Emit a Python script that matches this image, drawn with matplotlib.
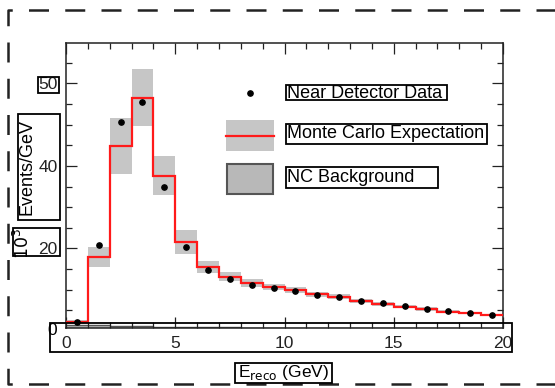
import numpy as np
import matplotlib.pyplot as plt
from matplotlib.patches import Rectangle
from matplotlib.lines import Line2D
from matplotlib.ticker import MultipleLocator

plt.rcParams['font.family'] = ['Liberation Sans', 'DejaVu Sans']

# binned energy spectrum, 1 GeV bins from 0 to 20 GeV (values x10^3 events/GeV)
bin_edges = np.arange(0, 21, 1)
data_vals = [2.2, 20.8, 50.7, 55.5, 34.9, 20.4, 14.8, 12.6, 11.2, 10.4,
             9.7, 8.7, 8.2, 7.3, 6.8, 6.1, 5.4, 4.8, 4.3, 3.9]
mc_vals = [2.1, 17.9, 44.8, 56.5, 37.6, 21.6, 15.5, 13.1, 11.6, 10.6,
           9.9, 8.9, 8.3, 7.3, 6.5, 5.9, 5.3, 4.7, 4.3, 3.9]
mc_err = [0.5, 2.5, 6.7, 6.9, 4.7, 2.9, 1.5, 1.1, 0.9, 0.8,
          0.7, 0.6, 0.6, 0.5, 0.5, 0.4, 0.4, 0.4, 0.3, 0.3]
nc_vals = [1.5, 1.5, 1.2, 1.1, 1.0, 1.0, 0.9, 0.9, 0.8, 0.8,
           0.8, 0.7, 0.7, 0.7, 0.6, 0.6, 0.6, 0.6, 0.5, 0.5]

x_ticks = [0, 5, 10, 15, 20]
x_ticklabels = ['0', '5', '10', '15', '20']
y_ticks = [20, 40, 60]
y_ticklabels = ['20', '40', '50']

W, H = 555, 388


def fx(px):
    return px / W


def fy(py):
    return 1 - py / H


fig = plt.figure(figsize=(5.55, 3.88), dpi=100)
ax = fig.add_axes([fx(66), fy(328), fx(503) - fx(66), fy(43) - fy(328)])

centers = (bin_edges[:-1] + bin_edges[1:]) / 2
mc = np.array(mc_vals)
err = np.array(mc_err)

# NC background
ax.stairs(nc_vals, bin_edges, fill=True, color='#b8b8b8', zorder=1)
ax.stairs(nc_vals, bin_edges, color='#555555', lw=1.0, baseline=None, zorder=1.1)
# MC uncertainty band
ax.bar(bin_edges[:-1], 2 * err, bottom=mc - err, width=1, align='edge',
       color='#c6c6c6', lw=0, zorder=2)
# MC expectation
ax.stairs(mc_vals, bin_edges, color='#ff1a1a', lw=1.6, baseline=None, zorder=3)
# data
ax.plot(centers, data_vals, 'o', color='black', ms=3.8, zorder=4)

ax.set_xlim(0, 20)
ax.set_ylim(0.7, 69.8)
ax.set_xticks(x_ticks, labels=x_ticklabels)
ax.set_yticks(y_ticks, labels=y_ticklabels)
ax.xaxis.set_minor_locator(MultipleLocator(1))
ax.yaxis.set_minor_locator(MultipleLocator(5))
ax.tick_params(which='both', direction='in', top=True, right=True,
               labelsize=12.5, colors='#222222', width=0.9)
ax.tick_params(which='major', length=8, pad=6)
ax.tick_params(which='minor', length=4)
for s in ax.spines.values():
    s.set_linewidth(1.1)
    s.set_color('#222222')

# '0' on the y axis sits just under the frame
ax.text(-0.4, 0, '0', ha='right', va='center', fontsize=12.5, clip_on=False)


def box(x0, y0, x1, y1, lw=1.3):
    fig.patches.append(Rectangle((fx(x0), fy(y1)), fx(x1) - fx(x0), fy(y0) - fy(y1),
                                 transform=fig.transFigure, fill=False,
                                 edgecolor='black', lw=lw, zorder=10))


# boxes around text blocks
box(38, 77, 59, 93)
box(18, 114, 60, 220)
box(13, 228, 60, 256)
box(50, 323, 512, 352)
box(235, 363, 332, 383)
box(286, 85, 447, 100)
box(286, 124, 487, 144)
box(286, 167, 438, 188)

# axis titles
fig.text(fx(27), fy(167), 'Events/GeV', rotation=90, ha='center', va='center', fontsize=13)
fig.text(fx(22), fy(243), r'$10^3$', rotation=90, ha='center', va='center', fontsize=12.5)
fig.text(fx(283), fy(373), r'E$_{\rm reco}$ (GeV)', ha='center', va='center', fontsize=12.5)

# legend
fig.add_artist(Line2D([fx(250)], [fy(93)], marker='o', ms=3.8, color='black'))
fig.patches.append(Rectangle((fx(226), fy(151)), fx(274) - fx(226), fy(120) - fy(151),
                             transform=fig.transFigure, color='#c6c6c6', lw=0))
fig.add_artist(Line2D([fx(226), fx(274)], [fy(136), fy(136)], color='#ff1a1a', lw=1.6))
fig.patches.append(Rectangle((fx(227), fy(194)), fx(273) - fx(227), fy(164) - fy(194),
                             transform=fig.transFigure, facecolor='#b8b8b8',
                             edgecolor='#555555', lw=1.5))
fig.text(fx(287), fy(93), 'Near Detector Data', ha='left', va='center', fontsize=13)
fig.text(fx(287), fy(134), 'Monte Carlo Expectation', ha='left', va='center', fontsize=13)
fig.text(fx(287), fy(178), 'NC Background', ha='left', va='center', fontsize=13)

# dashed outer frame
frame_x = [fx(560), fx(8), fx(8), fx(560)]
frame_y = [fy(10), fy(10), fy(384), fy(384)]
fig.add_artist(Line2D(frame_x, frame_y, color='#222222', lw=1.8,
                      dashes=(8, 6.5), solid_joinstyle='miter'))

fig.savefig('out.png', dpi=100)
